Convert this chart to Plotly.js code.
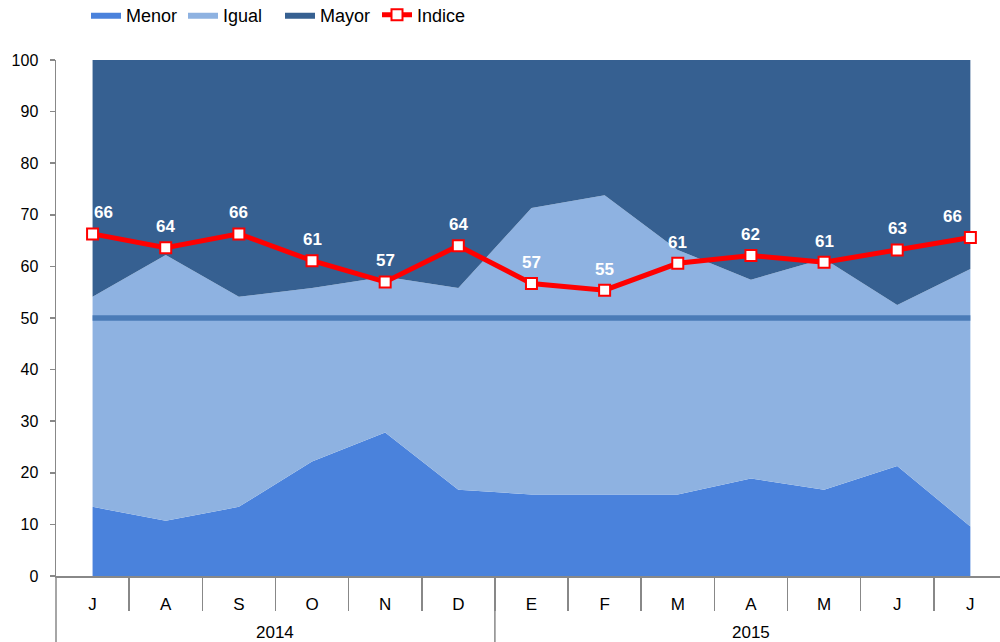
<!DOCTYPE html>
<html>
<head>
<meta charset="utf-8">
<script src="https://cdn.plot.ly/plotly-3.0.1.min.js"></script>
<style>
  html, body { margin: 0; padding: 0; background: #ffffff; }
  #chart { width: 1000px; height: 642px; }
</style>
</head>
<body>
<div id="chart"></div>
<script>
// ---- Data ----
const months = ['J','A','S','O','N','D','E','F','M','A','M','J','J'];
const years  = ['2014','2014','2014','2014','2014','2014','2015','2015','2015','2015','2015','2015','2015'];

const menor  = [13.4, 10.7, 13.4, 22.2, 27.8, 16.7, 15.8, 15.8, 15.8, 18.9, 16.7, 21.3, 9.6];
const igual  = [40.7, 51.5, 40.7, 33.6, 30.2, 39.1, 55.5, 58.0, 47.4, 38.5, 44.8, 31.2, 49.9];
const mayor  = [45.9, 37.8, 45.9, 44.2, 42.0, 44.2, 28.7, 26.2, 36.8, 42.6, 38.5, 47.5, 40.5];
const indice = [66.3, 63.6, 66.3, 61.1, 57.0, 64.0, 56.7, 55.4, 60.6, 62.1, 60.8, 63.2, 65.6];
const referencia = [50, 50, 50, 50, 50, 50, 50, 50, 50, 50, 50, 50, 50];

// ---- Derived positions ----
const pos = months.map((m, i) => i);                 // category slots
const bounds = pos.slice(1).map(p => p - 0.5);       // boundaries between months
const yearNames = [...new Set(years)];
const yearCenters = yearNames.map(y => {
  const idx = pos.filter(i => years[i] === y);
  return (idx[0] + idx[idx.length - 1]) / 2;
});
const yearStarts = yearNames.map(y => pos.find(i => years[i] === y) - 0.5);

const FONT = '"Liberation Sans", Arial, sans-serif';
const PLOT_H = 642 - 60 - 66;

const traces = [
  { name: 'Menor', x: pos, y: menor, type: 'scatter', mode: 'lines', stackgroup: 'one',
    line: { width: 0, color: '#4a82dc' }, fillcolor: '#4a82dc', hoverinfo: 'skip' },
  { name: 'Igual', x: pos, y: igual, type: 'scatter', mode: 'lines', stackgroup: 'one',
    line: { width: 0, color: '#8eb2e1' }, fillcolor: '#8eb2e1', hoverinfo: 'skip' },
  { name: 'Mayor', x: pos, y: mayor, type: 'scatter', mode: 'lines', stackgroup: 'one',
    line: { width: 0, color: '#366091' }, fillcolor: '#366091', hoverinfo: 'skip' },
  { name: 'Referencia', x: pos, y: referencia, type: 'scatter', mode: 'lines', showlegend: false,
    line: { width: 5.5, color: '#4a7bb7' }, hoverinfo: 'skip' },
  { name: 'Indice', x: pos, y: indice, type: 'scatter', mode: 'lines+markers',
    line: { width: 5, color: '#ff0000' },
    marker: { symbol: 'square', size: 11, color: '#ffffff', line: { width: 2, color: '#ff0000' } },
    cliponaxis: false, hoverinfo: 'skip' },
  // invisible trace that carries the boundary ticks on the overlaying axis
  { x: [pos[0]], y: [null], xaxis: 'x2', type: 'scatter', mode: 'lines', showlegend: false, hoverinfo: 'skip' }
];

// value labels above the Indice markers
const labelAnnotations = indice.map((v, i) => ({
  x: pos[i], y: v, xref: 'x', yref: 'y',
  text: String(Math.round(v)), showarrow: false,
  xanchor: 'center', yanchor: 'middle',
  yshift: 21,
  xshift: i === 0 ? 11 : (i === indice.length - 1 ? -18 : 0),
  font: { family: FONT, size: 17, color: '#ffffff', weight: 'bold' }
}));

const yearAnnotations = yearNames.map((y, k) => ({
  x: yearCenters[k], y: -56 / PLOT_H, xref: 'x', yref: 'paper',
  text: y, showarrow: false, xanchor: 'center', yanchor: 'middle',
  font: { family: FONT, size: 17, color: '#000000' }
}));

const dividerShapes = yearStarts.map((xs, k) => ({
  type: 'line', xref: k === 0 ? 'paper' : 'x', yref: 'paper',
  x0: k === 0 ? 0 : xs, x1: k === 0 ? 0 : xs,
  y0: 0, y1: -66 / PLOT_H,
  line: { color: '#888888', width: 1.5 }
}));

const xRange = [-0.5, 12.405];

const layout = {
  width: 1000, height: 642,
  margin: { l: 56, r: 0, t: 60, b: 66 },
  paper_bgcolor: '#ffffff', plot_bgcolor: '#ffffff',
  font: { family: FONT, size: 16, color: '#000000' },
  showlegend: true,
  legend: {
    orientation: 'h', xref: 'container', yref: 'container',
    x: 0.086, xanchor: 'left', y: 1 - 15 / 642, yanchor: 'middle',
    traceorder: 'normal', entrywidth: 52, entrywidthmode: 'pixels',
    font: { family: FONT, size: 18, color: '#000000' },
    bgcolor: 'rgba(0,0,0,0)'
  },
  xaxis: {
    type: 'linear', range: xRange,
    tickmode: 'array', tickvals: pos, ticktext: months,
    ticks: '', ticklabelstandoff: 12,
    showline: true, linecolor: '#888888', linewidth: 1.5,
    showgrid: false, zeroline: false,
    tickfont: { family: FONT, size: 17, color: '#000000' }
  },
  xaxis2: {
    type: 'linear', range: xRange, overlaying: 'x', anchor: 'y', side: 'bottom',
    tickmode: 'array', tickvals: bounds,
    ticks: 'outside', ticklen: 34, tickcolor: '#888888', tickwidth: 1.5,
    showticklabels: false, showline: false, showgrid: false, zeroline: false
  },
  yaxis: {
    range: [0, 100], tick0: 0, dtick: 10,
    showline: true, linecolor: '#888888', linewidth: 1.5,
    ticks: 'outside', ticklen: 5, tickcolor: '#888888', tickwidth: 1.5,
    showgrid: false, zeroline: false,
    tickfont: { family: FONT, size: 16, color: '#000000' },
    ticklabelstandoff: 8
  },
  annotations: labelAnnotations.concat(yearAnnotations),
  shapes: dividerShapes,
  hovermode: false
};

Plotly.newPlot('chart', traces, layout, { displayModeBar: false, staticPlot: true });
</script>
</body>
</html>
